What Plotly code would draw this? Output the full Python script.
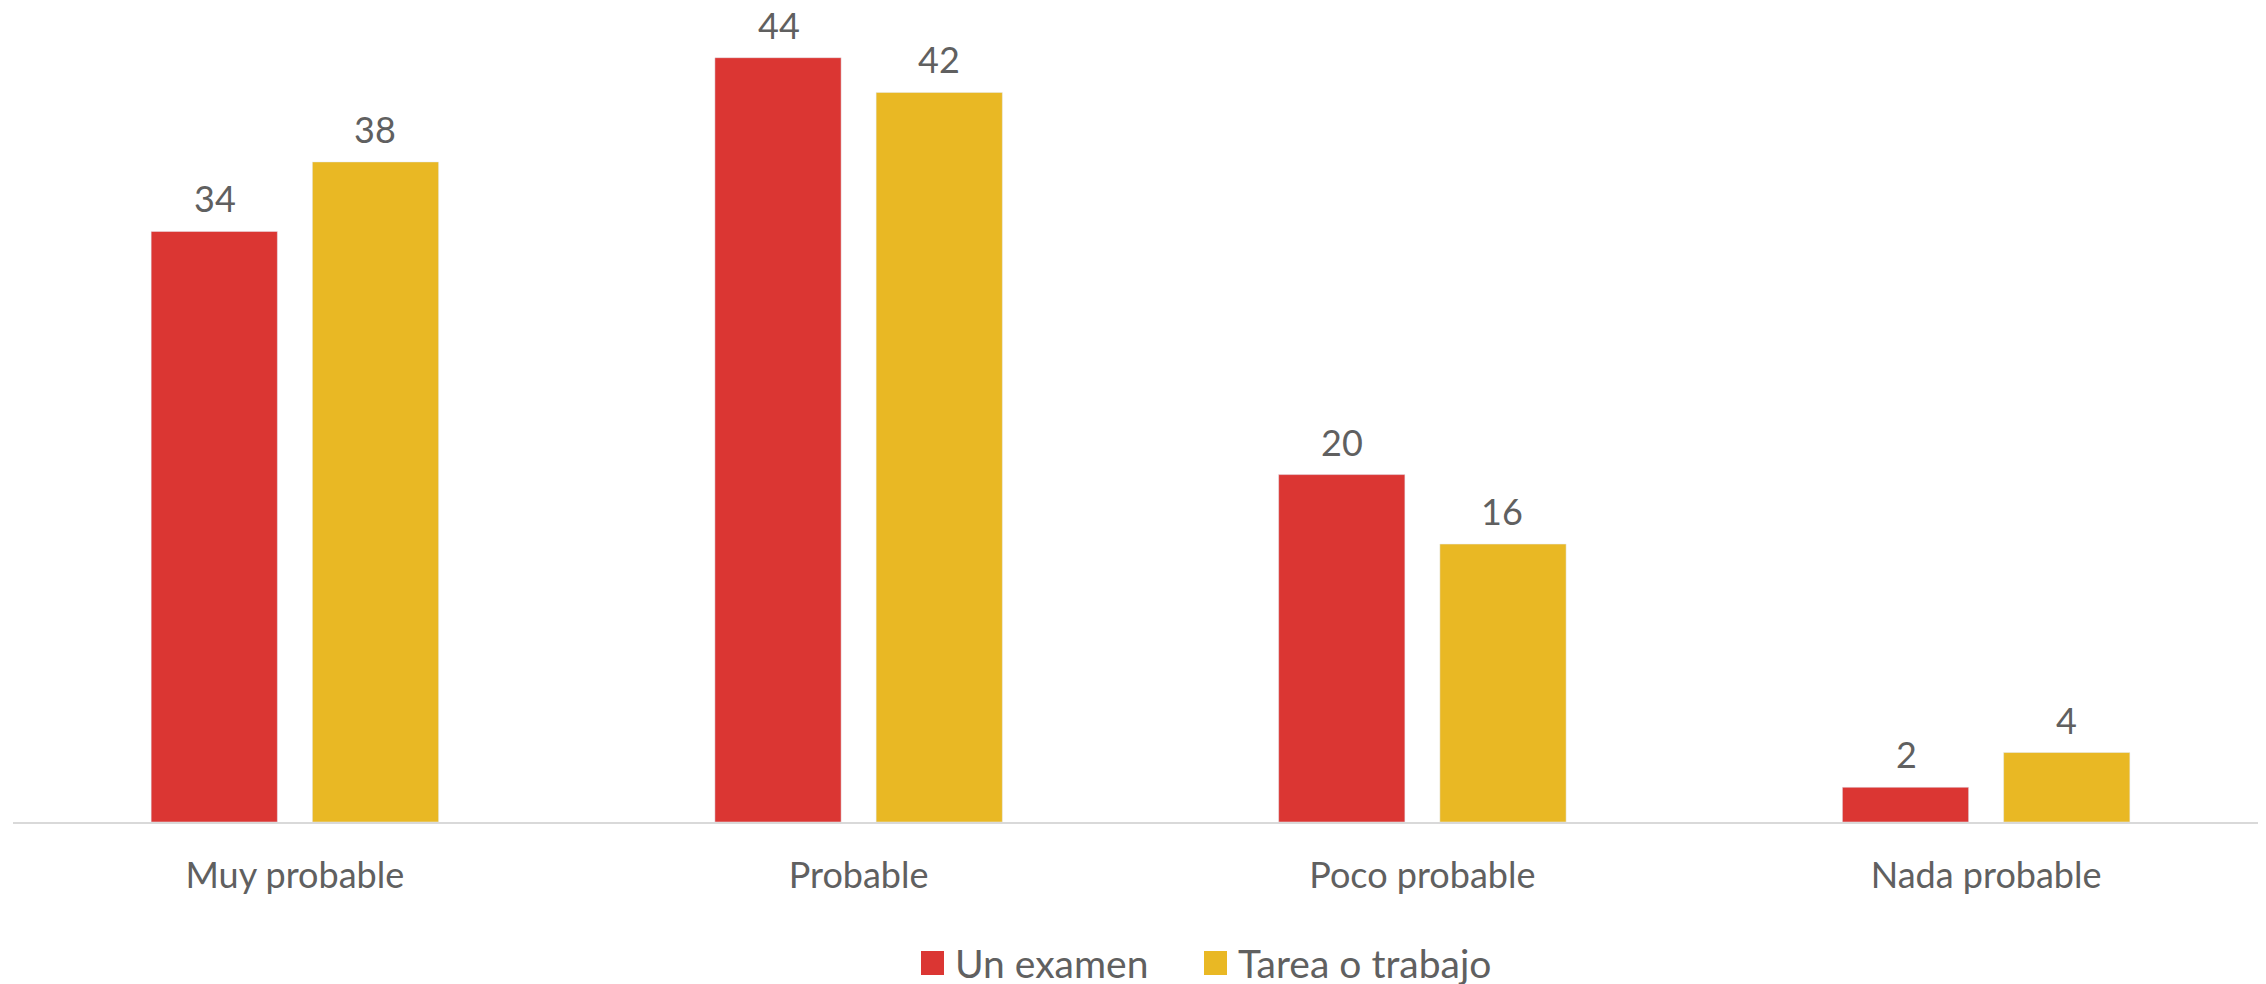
import plotly.graph_objects as go

# categorias y valores (%)
categorias = ["Muy probable", "Probable", "Poco probable", "Nada probable"]
examen = [34, 44, 20, 2]
tarea = [38, 42, 16, 4]
series = [("Un examen", examen), ("Tarea o trabajo", tarea)]

ROJO = "#DB3633"
AMARILLO = "#E9B824"
GRIS = "#606060"
FUENTE = "Lato, Open Sans, sans-serif"
colores = [ROJO, AMARILLO]

W, H = 2266, 984
ML, MR, MT, MB = 5, 6, 0, 170
PW, PH = W - ML - MR, H - MT - MB


def px_x(x):
    return (x - ML) / PW


def px_y(y):
    return (H - MB - y) / PH


fig = go.Figure()
for (nombre, valores), color in zip(series, colores):
    fig.add_trace(
        go.Bar(
            name=nombre,
            x=categorias,
            y=valores,
            marker_color=color,
            showlegend=False,
        )
    )

# etiquetas de datos sobre las barras
desplaz = [-80, 80]
for (nombre, valores), dx in zip(series, desplaz):
    for cat, v in zip(categorias, valores):
        fig.add_annotation(
            x=cat,
            y=v,
            text=str(v),
            showarrow=False,
            xshift=dx,
            yshift=9,
            yanchor="bottom",
            font=dict(size=36, color=GRIS, family=FUENTE),
        )

# leyenda dibujada a mano (cuadros grandes como en Excel)
leyenda_x = [913, 1196]
for (nombre, valores), color, lx in zip(series, colores, leyenda_x):
    fig.add_shape(
        type="rect",
        xref="paper",
        yref="paper",
        xsizemode="pixel",
        ysizemode="pixel",
        xanchor=px_x(lx),
        yanchor=px_y(955),
        x0=0,
        x1=23,
        y0=-12,
        y1=12,
        fillcolor=color,
        line_width=0,
    )
    fig.add_annotation(
        xref="paper",
        yref="paper",
        x=px_x(lx + 32),
        y=px_y(955),
        xanchor="left",
        yanchor="middle",
        text=nombre,
        showarrow=False,
        font=dict(size=39, color=GRIS, family=FUENTE),
    )

fig.update_layout(
    width=W,
    height=H,
    barmode="group",
    bargap=0.428,
    bargroupgap=0.217,
    plot_bgcolor="white",
    paper_bgcolor="white",
    margin=dict(l=ML, r=MR, t=MT, b=MB),
    font=dict(family=FUENTE, size=36, color=GRIS),
    showlegend=False,
    xaxis=dict(
        showline=True,
        linecolor="#D9D9D9",
        linewidth=2,
        ticks="outside",
        ticklen=21,
        tickcolor="rgba(0,0,0,0)",
        tickfont=dict(size=36, color=GRIS),
    ),
    yaxis=dict(
        range=[0, 46.86],
        visible=False,
        showgrid=False,
        zeroline=False,
    ),
)

fig.write_html("out.html")
